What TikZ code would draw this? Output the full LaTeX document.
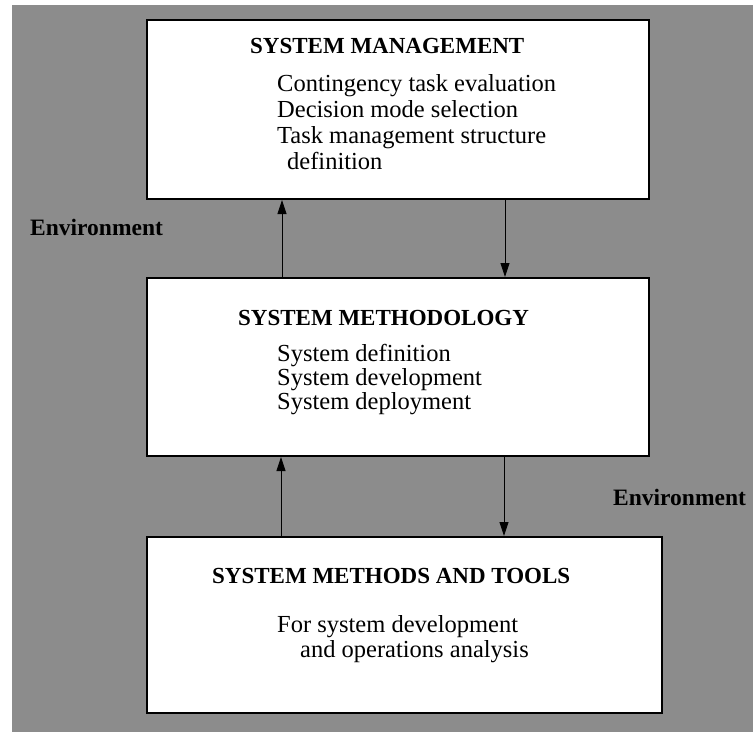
\documentclass[tikz,border=0pt]{standalone}
\usepackage{fontspec}
\setmainfont{Liberation Serif}
\usetikzlibrary{arrows.meta}
\begin{document}
\begin{tikzpicture}[x=1pt,y=-1pt,
  box/.style={draw=black, line width=2pt, fill=white, inner sep=0pt},
  head/.style={anchor=base west, inner sep=0pt, font=\fontsize{23}{23}\selectfont\bfseries},
  body/.style={anchor=base west, inner sep=0pt, font=\fontsize{24.5}{24.5}\selectfont},
  env/.style={anchor=base west, inner sep=0pt, font=\fontsize{23.5}{23.5}\selectfont\bfseries},
  arr/.style={line width=0.9pt, -{Triangle[length=14pt,width=9pt]}}]
\useasboundingbox (0,0) rectangle (753,732);
\fill[black!45] (12,5) rectangle (753,732);
% boxes
\node[box, minimum width=502pt, minimum height=179pt] (mgmt) at (398,109.5) {};
\node[box, minimum width=502pt, minimum height=178pt] (meth) at (398,367) {};
\node[box, minimum width=515pt, minimum height=176pt] (tools) at (404.5,625) {};
% top box text
\node[head] (mgmtH) at (250,53) {SYSTEM MANAGEMENT};
\node[body] (mgmt1) at (277,91) {Contingency task evaluation};
\node[body] (mgmt2) at (277,117) {Decision mode selection};
\node[body] (mgmt3) at (277,143) {Task management structure};
\node[body] (mgmt4) at (287,169) {definition};
% middle box text
\node[head] (methH) at (238,325) {SYSTEM METHODOLOGY};
\node[body] (meth1) at (277,361) {System definition};
\node[body] (meth2) at (277,385) {System development};
\node[body] (meth3) at (277,409) {System deployment};
% bottom box text
\node[head] (toolsH) at (212,583) {SYSTEM METHODS AND TOOLS};
\node[body] (tools1) at (277,632) {For system development};
\node[body] (tools2) at (300,657) {and operations analysis};
% environment labels
\node[env] (envL) at (30,235) {Environment};
\node[env] (envR) at (613,505) {Environment};
% arrows
\draw[arr] ([xshift=-116pt]meth.north) -- ([xshift=-116pt]mgmt.south);
\draw[arr] ([xshift=107pt]mgmt.south) -- ([xshift=107pt]meth.north);
\draw[arr] ([xshift=-117pt]meth.south |- tools.north) -- ([xshift=-117pt]meth.south);
\draw[arr] ([xshift=106pt]meth.south) -- ([xshift=106pt]meth.south |- tools.north);
\end{tikzpicture}
\end{document}
